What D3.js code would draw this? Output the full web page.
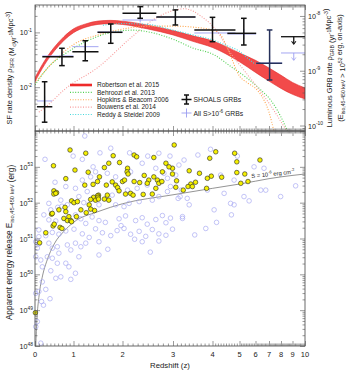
<!DOCTYPE html>
<html>
<head>
<meta charset="utf-8">
<script src="https://cdn.jsdelivr.net/npm/d3@7"></script>
<style>
  body { margin: 0; background: #fff; }
  text { font-family: "Liberation Sans", Arial, sans-serif; fill: #222; }
</style>
</head>
<body>
<div id="chart"></div>
<script>
var width = 350;
var height = 375;

// ---- data ----

var zTicks = [0, 1, 2, 3, 4, 5, 6, 7, 8, 9, 10];

// Robertson et al. 2015 band (Msun / yr / Mpc^3)
var robZ  = [0, 0.25, 0.5, 0.75, 1, 1.25, 1.5, 1.75, 2, 2.5, 3, 3.5, 4, 5, 6, 7, 8, 9, 10];
var robLo = [0.0126, 0.0258, 0.0456, 0.0710, 0.0987, 0.1246, 0.140, 0.1444, 0.1396, 0.1155, 0.0899, 0.0687, 0.0530, 0.0291, 0.0186, 0.0129, 0.0095, 0.0074, 0.0061];
var robHi = [0.0149, 0.0304, 0.0535, 0.0835, 0.116, 0.1430, 0.161, 0.1658, 0.1603, 0.1357, 0.1081, 0.0865, 0.0699, 0.0421, 0.0309, 0.0224, 0.0165, 0.0122, 0.0097];

var behZ = [0, 0.36, 0.8, 1.18, 1.52, 1.86, 2.2, 2.6, 3.0, 3.5, 4.06, 4.67, 5.49, 6.39, 7.14, 7.69, 8.26, 8.6];
var behV = [0.011, 0.0237, 0.0415, 0.063, 0.086, 0.103, 0.11, 0.098, 0.075, 0.052, 0.039, 0.024, 0.0145, 0.0089, 0.0058, 0.0038, 0.0022, 0.0015];

var hopZ = [0, 0.5, 1, 1.5, 2, 2.5, 3, 3.5, 4, 4.3, 4.6, 5.0, 5.5, 6.0, 6.6, 7.0, 7.4];
var hopV = [0.012, 0.03, 0.06, 0.09, 0.115, 0.13, 0.13, 0.125, 0.11, 0.09, 0.045, 0.016, 0.012, 0.0095, 0.006, 0.0035, 0.0016];

var bouZ = [0.1, 0.3, 0.8, 1.5, 2.2, 2.65, 3.0, 3.3, 3.7, 4.2, 4.7, 5.3, 6.0, 6.8, 7.5, 8.2, 8.8];
var bouV = [0.0035, 0.0045, 0.0095, 0.023, 0.085, 0.18, 0.25, 0.27, 0.2, 0.1, 0.04, 0.02, 0.011, 0.006, 0.0035, 0.002, 0.0013];

var redZ = [1.6, 2, 2.5, 3, 3.5, 4, 4.5, 5, 5.5, 6];
var redV = [0.135, 0.145, 0.14, 0.11, 0.09, 0.073, 0.058, 0.045, 0.034, 0.026];

// luminous GRB rate (yr^-1 Mpc^-3), SHOALS
var shZ    = [0.25, 0.7, 1.24, 1.76, 2.35, 3.06, 4.0, 5.27, 7.05];
var shZlo  = [0.05, 0.19, 0.97, 1.49, 2.0, 2.67, 3.54, 4.55, 6.05];
var shZhi  = [0.45, 1.0, 1.51, 2.0, 2.67, 3.57, 4.85, 6.05, 8.1];
var shRate = [2.2e-10, 1.8e-9, 2.22e-9, 5.03e-9, 1.12e-8, 9.57e-9, 5.55e-9, 4.82e-9, 1.37e-9];
var shLo   = [1.15e-10, 1.24e-9, 1.52e-9, 3.17e-9, 9.06e-9, 6.84e-9, 3.39e-9, 2.95e-9, 6.78e-10];
var shHi   = [6.3e-10, 2.57e-9, 3.53e-9, 7.13e-9, 1.48e-8, 1.29e-8, 9.44e-9, 9.06e-9, 5.55e-9];
var shLimit = { z: 9.1, zlo: 8.0, zhi: 10, rate: 4.18e-9 };

// all S > 1e-6 GRBs
var allRate = [2.81e-10, 1.86e-9, 2.75e-9, 5.09e-9, 8.43e-9, 9.57e-9, 4.89e-9, 4.69e-9, 1.38e-9];
var allLo   = [2.3e-10, 1.6e-9, 2.4e-9, 4.5e-9, 7.6e-9, 8.4e-9, 4.1e-9, 3.8e-9, 1.0e-9];
var allHi   = [3.5e-10, 2.2e-9, 3.2e-9, 5.8e-9, 9.4e-9, 1.1e-8, 5.8e-9, 5.8e-9, 1.9e-9];
var allLimit = { z: 9.1, zlo: 8.0, zhi: 10, rate: 2.11e-9 };

// Eiso (log10 erg) vs z
var shoalsZ = [3.03,0.91,1.25,0.48,1.03,2.23,2.28,1.81,1.94,1.72,2.62,2.86,1.63,2.10,2.09,2.11,1.30,0.80,2.99,2.79,2.43,2.62,2.99,1.53,1.49,1.79,2.00,2.04,2.23,2.34,2.52,2.69,2.72,2.78,1.23,1.40,1.67,1.86,0.49,0.49,0.56,1.90,1.93,2.06,2.16,2.21,2.41,2.49,2.66,2.59,1.51,1.49,1.41,1.35,1.45,1.50,1.51,1.63,1.69,1.72,0.95,1.01,1.08,1.32,1.43,0.62,0.78,0.80,0.43,0.88,1.15,1.35,1.26,1.06,0.75,0.84,0.93,0.95,0.47,0.65,0.70,0.28,0.12,2.92,4.12,4.82,3.93,4.90,6.33,3.41,3.67,3.97,3.87,4.34,4.90,5.33,3.09,3.57,3.45,3.38,3.49,3.07,3.26,3.85,5.08,5.53,0.01,0.45,0.50,0.54];
var shoalsE = [53.61,53.47,53.38,53.03,52.91,53.33,53.28,53.31,53.12,53.10,53.26,53.10,52.98,52.96,52.86,52.80,52.85,52.67,52.96,52.86,52.76,52.72,52.80,52.72,52.59,52.58,52.59,52.63,52.59,52.56,52.63,52.63,52.54,52.59,52.49,52.51,52.49,52.49,52.33,52.24,52.28,52.42,52.33,52.24,52.26,52.21,52.23,52.54,52.40,52.24,52.21,52.19,52.15,52.09,52.07,52.15,52.10,52.10,52.21,52.07,52.05,52.00,52.03,51.94,51.78,51.80,51.87,51.75,51.68,51.61,51.80,51.82,51.72,51.61,51.56,51.50,51.50,51.47,51.35,51.31,51.28,51.16,50.88,53.00,53.42,53.38,53.24,53.14,53.19,52.89,52.82,52.74,52.68,52.71,52.84,52.80,52.61,52.57,52.52,52.45,52.45,52.43,52.35,52.40,52.54,52.59,48.93,51.70,51.40,52.26];

var allZ = [1.23,1.76,2.14,1.54,0.99,1.18,2.72,2.94,2.39,2.50,1.40,0.52,0.80,1.04,1.18,1.35,1.45,1.69,1.86,2.16,2.66,2.82,2.89,2.49,2.29,2.10,1.79,1.28,1.11,0.67,0.36,0.59,0.84,1.21,1.52,1.86,2.03,2.13,2.33,2.59,2.72,2.89,2.95,0.23,0.36,0.54,1.04,1.15,1.25,1.38,1.52,1.65,1.93,2.06,2.26,2.39,2.49,2.66,2.79,2.86,2.95,0.10,0.28,0.45,0.62,0.80,1.01,1.18,1.32,1.45,1.59,1.76,1.89,2.03,2.16,2.33,2.46,2.59,2.72,2.86,2.99,3.15,3.28,3.63,3.95,4.92,5.91,6.63,4.30,4.80,3.13,3.18,3.36,3.41,3.87,4.06,4.43,4.67,4.80,5.28,6.39,6.76,7.97,9.25,3.24,3.24,3.83,4.70,3.21,3.07,0.02,0.10,0.36,0.45,0.58,0.62,0.84,0.93,1.04,1.15,1.25,1.52,2.39,2.72,0.15,0.32,0.19,0.45,0.58,0.80,1.11,1.52,0.41,0.67,0.88,1.04,0.54,0.19,0.93,0.02,0.10,0.28,0.39,0.17,0.22,0.06,0.02,0.15,0.26,0.41,0.10,0.06,0.02,1.97,2.24,1.70,2.55,0.70,3.55,4.15,5.60];
var allE = [53.86,53.52,53.39,53.39,53.30,53.21,53.38,53.30,53.10,53.30,53.00,52.57,52.45,52.40,52.63,52.72,52.86,52.82,52.72,52.86,52.96,52.82,52.68,52.49,52.40,52.35,52.21,52.31,52.17,52.07,51.98,51.87,51.94,52.00,51.94,51.94,51.89,51.98,52.03,52.07,52.17,52.31,52.45,51.66,51.52,51.49,51.66,51.55,51.42,51.60,51.50,51.45,51.55,51.63,51.50,51.58,51.40,51.53,51.64,51.44,51.57,51.24,51.08,51.17,51.12,51.21,51.26,51.13,51.03,51.27,51.16,51.08,51.22,51.28,51.12,51.20,51.06,51.25,51.13,51.09,51.26,53.05,53.19,53.33,53.49,53.30,53.00,52.96,52.77,52.63,52.12,52.17,52.12,51.94,52.35,51.80,52.26,51.98,51.94,52.17,52.35,52.35,52.17,52.47,51.61,51.56,51.28,51.66,52.35,52.77,50.91,50.85,50.87,50.73,50.77,50.59,50.82,50.68,50.87,50.77,50.87,50.91,50.91,50.93,50.40,50.49,50.21,50.45,50.31,50.31,50.49,50.54,50.10,49.93,50.21,50.03,49.89,49.79,49.86,49.47,49.52,49.58,49.32,49.24,49.14,48.68,48.54,48.08,53.21,51.80,51.05,50.73,50.49,51.36,50.98,50.70,50.62,51.90,51.10,51.45,52.05];

// S = 1e-6 erg/cm^2 threshold (log10 erg)
var limZ = [0.02, 0.05, 0.1, 0.2, 0.3, 0.5, 0.75, 1, 1.5, 2, 3, 4, 5, 6, 7, 8, 10];
var limE = [48.0, 48.75, 49.35, 49.98, 50.35, 50.85, 51.2, 51.45, 51.75, 51.97, 52.22, 52.4, 52.52, 52.6, 52.67, 52.72, 52.8];

// ---- layout ----
var left = 35, right = 305;
var top1 = 5, bot1 = 131, top2 = 131, bot2 = 346;

var svg = d3.select("#chart").append("svg")
  .attr("width", width).attr("height", height);

// redshift axis is stretched unevenly in the original
var x = d3.scaleLinear()
  .domain(zTicks)
  .range([0, 38.5, 87.5, 138, 177.5, 204.5, 220.5, 234, 246, 257.5, 270].map(function (d) { return left + d; }));

var ySFR = d3.scaleLog().domain([Math.pow(10, -2.8), Math.pow(10, -0.5)]).range([bot1, top1]);
var yGRB = d3.scaleLog().domain([Math.pow(10, -10.1), Math.pow(10, -7.8)]).range([bot1, top1]);
var yE = d3.scaleLog().domain([1e48, 1e54]).range([bot2, top2]);

var zMinor = d3.range(1, 100).map(function (i) { return i / 10; }).filter(function (d) { return d % 1 !== 0; });

function logMinor(scale) {
  var d = scale.domain(), out = [];
  for (var e = Math.floor(Math.log10(d[0])); e <= Math.ceil(Math.log10(d[1])); e++) {
    for (var m = 2; m < 10; m++) {
      var v = m * Math.pow(10, e);
      if (v >= d[0] && v <= d[1]) out.push(v);
    }
  }
  return out;
}
function logMajor(scale) {
  var d = scale.domain(), out = [];
  for (var e = Math.ceil(Math.log10(d[0]) - 1e-9); e <= Math.floor(Math.log10(d[1]) + 1e-9); e++) out.push(e);
  return out;
}

function ticks(axisFn, scale, y, major, minor, xpos) {
  var g1 = svg.append("g").attr("transform", xpos != null ? "translate(" + xpos + ",0)" : "translate(0," + y + ")")
    .call(axisFn(scale).tickValues(major).tickSize(-5).tickSizeOuter(0).tickFormat(""));
  var g2 = svg.append("g").attr("transform", xpos != null ? "translate(" + xpos + ",0)" : "translate(0," + y + ")")
    .call(axisFn(scale).tickValues(minor).tickSize(-2.5).tickSizeOuter(0).tickFormat(""));
  [g1, g2].forEach(function (g) {
    g.select(".domain").remove();
    g.selectAll("line").attr("stroke", "#555").attr("stroke-width", 0.6);
  });
}

function supLabel(sel, base, exp) {
  sel.append("tspan").text(base);
  sel.append("tspan").attr("dy", -3.5).attr("font-size", "0.68em").text(exp);
}

// ---- top panel ----

var area = d3.area()
  .x(function (d, i) { return x(robZ[i]); })
  .y0(function (d, i) { return ySFR(robLo[i]); })
  .y1(function (d, i) { return ySFR(robHi[i]); })
  .curve(d3.curveMonotoneX);

svg.append("clipPath").attr("id", "clip1")
  .append("rect").attr("x", left).attr("y", top1).attr("width", right - left).attr("height", bot1 - top1);

var gTop = svg.append("g").attr("clip-path", "url(#clip1)");

gTop.append("path").datum(robZ).attr("d", area)
  .attr("fill", "#f24a4a").attr("stroke", "#e02b2b").attr("stroke-width", 0.6);

var curves = [
  { z: behZ, v: behV, c: "#4fcf4f" },
  { z: hopZ, v: hopV, c: "#ffa64d" },
  { z: bouZ, v: bouV, c: "#f79a9a" },
  { z: redZ, v: redV, c: "#45d8dc" }
];

curves.forEach(function (c) {
  var line = d3.line()
    .x(function (d, i) { return x(c.z[i]); })
    .y(function (d, i) { return ySFR(c.v[i]); })
    .curve(d3.curveMonotoneX);
  gTop.append("path").datum(c.z).attr("d", line)
    .attr("fill", "none").attr("stroke", c.c).attr("stroke-width", 1.1)
    .attr("stroke-dasharray", "1,1.6");
});

function errCross(g, z, zlo, zhi, v, lo, hi, col, w, cap) {
  g.append("line").attr("x1", x(zlo)).attr("x2", x(zhi)).attr("y1", yGRB(v)).attr("y2", yGRB(v))
    .attr("stroke", col).attr("stroke-width", w);
  g.append("line").attr("x1", x(z)).attr("x2", x(z)).attr("y1", yGRB(lo)).attr("y2", yGRB(hi))
    .attr("stroke", col).attr("stroke-width", w);
  if (cap) {
    [lo, hi].forEach(function (e) {
      g.append("line").attr("x1", x(z) - cap).attr("x2", x(z) + cap).attr("y1", yGRB(e)).attr("y2", yGRB(e))
        .attr("stroke", col).attr("stroke-width", w);
    });
  }
}

function limitMark(g, l, col, w) {
  var yy = yGRB(l.rate);
  g.append("line").attr("x1", x(l.zlo)).attr("x2", x(l.zhi)).attr("y1", yy).attr("y2", yy)
    .attr("stroke", col).attr("stroke-width", w);
  g.append("line").attr("x1", x(l.z)).attr("x2", x(l.z)).attr("y1", yy).attr("y2", yy + 7)
    .attr("stroke", col).attr("stroke-width", w);
  g.append("path")
    .attr("d", "M" + (x(l.z) - 2.2) + "," + (yy + 4.5) + "L" + x(l.z) + "," + (yy + 7.5) + "L" + (x(l.z) + 2.2) + "," + (yy + 4.5))
    .attr("fill", "none").attr("stroke", col).attr("stroke-width", w * 0.8);
}

var gPts = svg.append("g");
shZ.forEach(function (z, i) {
  errCross(gPts, z, shZlo[i], shZhi[i], allRate[i], allLo[i], allHi[i], "#9a9cf0", 0.9, 0);
});
limitMark(gPts, allLimit, "#9a9cf0", 0.9);
shZ.forEach(function (z, i) {
  errCross(gPts, z, shZlo[i], shZhi[i], shRate[i], shLo[i], shHi[i], i === 8 ? "#25305a" : "#111", 1.5, 2.8);
});
limitMark(gPts, shLimit, "#111", 1.3);

// legend (models)
var legNames = ["Robertson et al. 2015", "Behroozi et al. 2013", "Hopkins & Beacom 2006", "Bouwens et al. 2014", "Reddy & Steidel 2009"];
var legCols = ["#ee2a2a", "#4fcf4f", "#ffa64d", "#f79a9a", "#45d8dc"];
var legY = d3.scalePoint().domain(legNames).range([85, 114.5]);
legNames.forEach(function (n, i) {
  svg.append("line").attr("x1", 70).attr("x2", 92).attr("y1", legY(n)).attr("y2", legY(n))
    .attr("stroke", legCols[i]).attr("stroke-width", i === 0 ? 2.6 : 1.1)
    .attr("stroke-dasharray", i === 0 ? null : "1,1.6");
  svg.append("text").attr("x", 97).attr("y", legY(n) + 2.2).attr("font-size", 6.5).text(n);
});

// legend (points)
function legCross(cy, col, w, cap) {
  svg.append("line").attr("x1", 181.5).attr("x2", 191.5).attr("y1", cy).attr("y2", cy).attr("stroke", col).attr("stroke-width", w);
  svg.append("line").attr("x1", 186.5).attr("x2", 186.5).attr("y1", cy - 4.5).attr("y2", cy + 4.5).attr("stroke", col).attr("stroke-width", w);
  if (cap) {
    [cy - 4.5, cy + 4.5].forEach(function (yy) {
      svg.append("line").attr("x1", 184).attr("x2", 189).attr("y1", yy).attr("y2", yy).attr("stroke", col).attr("stroke-width", w);
    });
  }
}
legCross(99.5, "#111", 1.5, true);
legCross(113, "#9a9cf0", 0.9, false);
svg.append("text").attr("x", 193.5).attr("y", 102).attr("font-size", 6.8).text("SHOALS GRBs");
var t2 = svg.append("text").attr("x", 193.5).attr("y", 115.5).attr("font-size", 6.8);
t2.append("tspan").text("All S>10");
t2.append("tspan").attr("dy", -3).attr("font-size", "0.68em").text("-6");
t2.append("tspan").attr("dy", 3).text(" GRBs");

// ---- bottom panel ----

var gBot = svg.append("g");

var limLine = d3.line()
  .x(function (d, i) { return x(limZ[i]); })
  .y(function (d, i) { return yE(Math.pow(10, limE[i])); })
  .curve(d3.curveMonotoneX);
gBot.append("path").datum(limZ).attr("d", limLine)
  .attr("fill", "none").attr("stroke", "#666").attr("stroke-width", 0.7);

gBot.selectAll("circle.all").data(allZ).enter().append("circle")
  .attr("class", "all")
  .attr("cx", function (d) { return x(d); })
  .attr("cy", function (d, i) { return yE(Math.pow(10, allE[i])); })
  .attr("r", 2.3)
  .attr("fill", "none").attr("stroke", "#a9aaf2").attr("stroke-width", 0.7);

gBot.selectAll("circle.sh").data(shoalsZ).enter().append("circle")
  .attr("class", "sh")
  .attr("cx", function (d) { return x(d); })
  .attr("cy", function (d, i) { return yE(Math.pow(10, shoalsE[i])); })
  .attr("r", 2.3)
  .attr("fill", "#f5f000").attr("stroke", "#222").attr("stroke-width", 0.6);

var sLab = svg.append("text").attr("font-size", 5.8)
  .attr("transform", "translate(" + x(5.75) + "," + (yE(Math.pow(10, 52.63)) - 2) + ") rotate(-6)");
sLab.append("tspan").text("S = 10");
sLab.append("tspan").attr("dy", -2.8).attr("font-size", "0.7em").text("-6");
sLab.append("tspan").attr("dy", 2.8).text(" erg cm");
sLab.append("tspan").attr("dy", -2.8).attr("font-size", "0.7em").text("-2");

// ---- axes ----

// frames
[[top1, bot1], [top2, bot2]].forEach(function (p) {
  svg.append("rect").attr("x", left).attr("y", p[0]).attr("width", right - left).attr("height", p[1] - p[0])
    .attr("fill", "none").attr("stroke", "#444").attr("stroke-width", 0.8);
});

ticks(d3.axisTop, x, top1, zTicks, zMinor);
ticks(d3.axisBottom, x, bot1, zTicks, zMinor);
ticks(d3.axisTop, x, top2, zTicks, zMinor);
ticks(d3.axisBottom, x, bot2, zTicks, zMinor);

ticks(d3.axisLeft, ySFR, null, logMajor(ySFR).map(function (e) { return Math.pow(10, e); }), logMinor(ySFR), left);
ticks(d3.axisRight, yGRB, null, logMajor(yGRB).map(function (e) { return Math.pow(10, e); }), logMinor(yGRB), right);
ticks(d3.axisLeft, yE, null, logMajor(yE).map(function (e) { return Math.pow(10, e); }), logMinor(yE), left);
ticks(d3.axisRight, yE, null, logMajor(yE).map(function (e) { return Math.pow(10, e); }), logMinor(yE), right);

// x tick labels
zTicks.forEach(function (z) {
  svg.append("text").attr("x", x(z)).attr("y", bot2 + 10.5).attr("text-anchor", "middle")
    .attr("font-size", 7.5).text(z);
});

// y tick labels
logMajor(ySFR).forEach(function (e) {
  var t = svg.append("text").attr("x", left - 3).attr("y", ySFR(Math.pow(10, e)) + 3).attr("text-anchor", "end").attr("font-size", 7.2);
  supLabel(t, "10", e);
});
logMajor(yGRB).forEach(function (e) {
  var t = svg.append("text").attr("x", right + 3).attr("y", yGRB(Math.pow(10, e)) + 3).attr("font-size", 7.2);
  supLabel(t, "10", e);
});
logMajor(yE).forEach(function (e) {
  if (e > 53) return;
  var t = svg.append("text").attr("x", left - 2).attr("y", yE(Math.pow(10, e)) + 3).attr("text-anchor", "end").attr("font-size", 7.2);
  supLabel(t, "10", e);
});

// axis titles
function sub(t, s) { t.append("tspan").attr("dy", 1.8).attr("font-size", "0.7em").text(s); t.append("tspan").attr("dy", -1.8).text(""); }
function sup(t, s) { t.append("tspan").attr("dy", -3).attr("font-size", "0.7em").text(s); t.append("tspan").attr("dy", 3).text(""); }

var ttl1 = svg.append("text").attr("font-size", 7.4).attr("text-anchor", "middle")
  .attr("transform", "translate(12," + (top1 + bot1) / 2 + ") rotate(-90)");
ttl1.append("tspan").text("SF rate density ρ");
sub(ttl1, "SFR");
ttl1.append("tspan").text(" (M");
sub(ttl1, "⊙");
ttl1.append("tspan").text("yr");
sup(ttl1, "-1");
ttl1.append("tspan").text("Mpc");
sup(ttl1, "-3");
ttl1.append("tspan").text(")");

var ttl2 = svg.append("text").attr("font-size", 7.4).attr("text-anchor", "middle")
  .attr("transform", "translate(332," + (top1 + bot1) / 2 + ") rotate(-90)");
ttl2.append("tspan").text("Luminous GRB rate ρ");
sub(ttl2, "GRB");
ttl2.append("tspan").text(" (yr");
sup(ttl2, "-1");
ttl2.append("tspan").text("Mpc");
sup(ttl2, "-3");
ttl2.append("tspan").text(")");

var ttl3 = svg.append("text").attr("font-size", 7.4).attr("text-anchor", "middle")
  .attr("transform", "translate(343," + (top1 + bot1) / 2 + ") rotate(-90)");
ttl3.append("tspan").text("(E");
sub(ttl3, "iso,45-450 keV");
ttl3.append("tspan").text(" > 10");
sup(ttl3, "52");
ttl3.append("tspan").text(" erg, on-axis)");

var ttl4 = svg.append("text").attr("font-size", 8.2).attr("text-anchor", "middle")
  .attr("transform", "translate(12," + ((top2 + bot2) / 2 + 4) + ") rotate(-90)");
ttl4.append("tspan").text("Apparent energy release E");
sub(ttl4, "iso,45-450 keV");
ttl4.append("tspan").text(" (erg)");

svg.append("text").attr("x", (left + right) / 2).attr("y", 368).attr("text-anchor", "middle")
  .attr("font-size", 7.8).text("Redshift (z)");
</script>
</body>
</html>
